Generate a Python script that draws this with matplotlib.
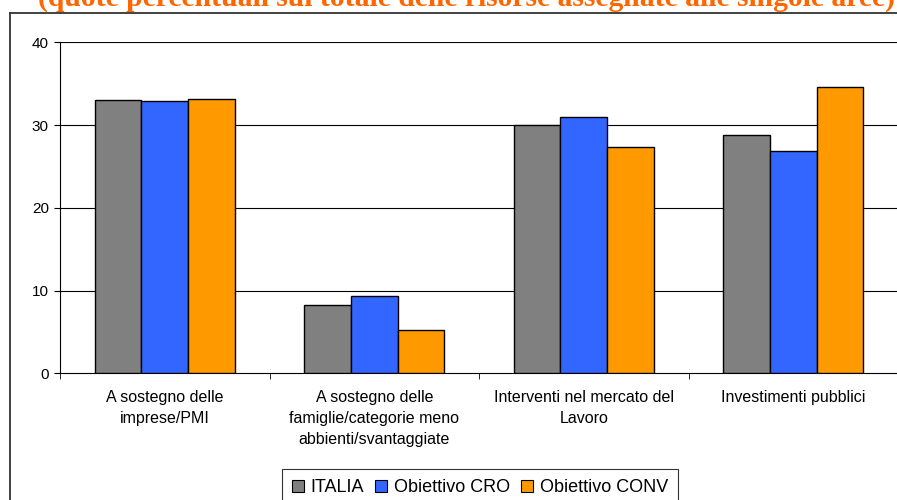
import matplotlib
matplotlib.use("Agg")
import matplotlib.pyplot as plt
import numpy as np
from matplotlib.lines import Line2D

# data
categories = ["A sostegno delle\nimprese/PMI",
              "A sostegno delle\nfamiglie/categorie meno\nabbienti/svantaggiate",
              "Interventi nel mercato del\nLavoro",
              "Investimenti pubblici"]
series_names = ["ITALIA", "Obiettivo CRO", "Obiettivo CONV"]
italia = [33.0, 8.3, 30.0, 28.8]
cro = [32.9, 9.3, 31.0, 26.9]
conv = [33.1, 5.2, 27.3, 34.6]
title = "(quote percentuali sul totale delle risorse assegnate alle singole aree)"

colors = ["#808080", "#3366FF", "#FF9900"]

plt.rcParams['font.family'] = ['Liberation Sans', 'DejaVu Sans']

fig = plt.figure(figsize=(8.97, 5.0), dpi=100)
ax = fig.add_axes([60 / 897, 126.7 / 500, 838 / 897, 331 / 500])

x = np.arange(len(categories))
w = 1 / 4.5
for i, vals in enumerate([italia, cro, conv]):
    ax.bar(x + (i - 1) * w, vals, width=w, color=colors[i], edgecolor="black",
           linewidth=1.0, label=series_names[i], zorder=3)

ax.set_xlim(-0.5, len(categories) - 0.5)
ax.set_ylim(0, 40)
ax.set_yticks([0, 10, 20, 30, 40])
for yv in [10, 20, 30, 40]:
    ax.axhline(yv, color="black", linewidth=0.8, zorder=1)

ax.spines["top"].set_visible(False)
ax.spines["right"].set_visible(False)
ax.spines["left"].set_color("black")
ax.spines["bottom"].set_color("black")

ax.set_xticks(x)
ax.set_xticklabels(categories, fontsize=11.5, linespacing=1.5, va="top")
ax.set_xticks(np.arange(-0.5, len(categories) + 0.5, 1), minor=True)
ax.tick_params(axis="x", which="major", length=0, pad=12)
ax.tick_params(axis="x", which="minor", length=4, direction="out", color="black")
ax.tick_params(axis="y", length=4, direction="out", pad=4, labelsize=11)

# legend box at the bottom
handles = [plt.Rectangle((0, 0), 1, 1, facecolor=c, edgecolor="black", linewidth=0.8)
           for c in colors]
leg = fig.legend(handles, series_names, loc="upper center", ncol=3,
                 bbox_to_anchor=(480 / 897, 1 - 469 / 500), fontsize=13,
                 frameon=True, fancybox=False, handlelength=0.65, handleheight=0.65,
                 handletextpad=0.4, columnspacing=0.6, borderpad=0.55, borderaxespad=0)
leg.get_frame().set_edgecolor("black")
leg.get_frame().set_linewidth(0.8)

# outer chart frame (cut by the image edge)
fig.add_artist(Line2D([10 / 897, 10 / 897], [0, 1 - 13 / 500], transform=fig.transFigure,
                      color="#333333", linewidth=1.3))
fig.add_artist(Line2D([10 / 897, 1.0], [1 - 13 / 500, 1 - 13 / 500], transform=fig.transFigure,
                      color="#333333", linewidth=1.3))

# title, only its lower part is visible
fig.text(466 / 897, 1 - 5.5 / 500, title, ha="center", va="baseline",
         fontsize=21.3, fontweight="bold", color="#FF6600",
         family=["Liberation Serif", "DejaVu Serif"])

fig.savefig("out.png", dpi=100)
